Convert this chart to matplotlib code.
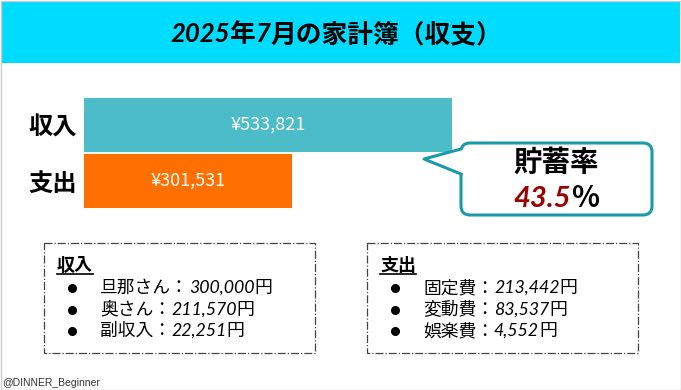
import matplotlib
matplotlib.use("Agg")
import matplotlib.pyplot as plt
import matplotlib.patches as pltch

# data
title_runs = [("2025", "num"), ("年", "jp"), ("7", "num"), ("月の家計簿（収支）", "jp")]
categories = ["収入", "支出"]
totals = [533821, 301531]
bar_colors = ["#4BBCC8", "#FF7000"]

income_names = ["旦那さん", "奥さん", "副収入"]
income_values = [300000, 211570, 22251]
expense_names = ["固定費", "変動費", "娯楽費"]
expense_values = [213442, 83537, 4552]

savings_rate = (totals[0] - totals[1]) / totals[0] * 100

JP = ["Noto Sans CJK JP", "DejaVu Sans"]
NUM = ["Lato", "DejaVu Sans"]

fig = plt.figure(figsize=(6.81, 3.90), dpi=100)
fig.patch.set_facecolor("white")

# overlay in pixel coordinates
ov = fig.add_axes([0, 0, 1, 1])
ov.set_xlim(0, 681)
ov.set_ylim(390, 0)
ov.axis("off")
ov.set_zorder(2)
ov.patch.set_alpha(0)

renderer = fig.canvas.get_renderer()


def runs_text(x, y, runs, ha="left", size=11, color="k", weight="normal"):
    """draw a line made of several text pieces with different styles"""
    texts = []
    for s, kind in runs:
        if kind == "num":
            t = ov.text(0, y, s, fontsize=size, family=NUM, style="italic",
                        weight=weight, color=color, va="baseline")
        elif isinstance(kind, dict):
            t = ov.text(0, y, s, va="baseline", **kind)
        else:
            t = ov.text(0, y, s, fontsize=size, family=JP, weight=weight,
                        color=color, va="baseline")
        texts.append(t)
    widths = [t.get_window_extent(renderer).width for t in texts]
    total = sum(widths)
    if ha == "center":
        x = x - total / 2
    for t, w in zip(texts, widths):
        t.set_x(x)
        x += w
    return texts


# banner
ov.add_patch(pltch.Rectangle((1, 1), 679, 62, facecolor="#00DCFF", edgecolor="none"))
runs_text(336, 42, title_runs, ha="center", size=18.5, weight="bold")

# outer frame
ov.add_patch(pltch.Rectangle((0.5, 0.5), 680, 389, facecolor="none",
                             edgecolor="#cccccc", lw=1))

# bars
ax = fig.add_axes([84 / 681, 1 - 209 / 390, 368 / 681, 112 / 390])
ypos = list(range(len(categories)))
ax.barh(ypos, totals, height=0.96, color=bar_colors)
ax.set_xlim(0, max(totals))
ax.set_ylim(1.5, -0.5)
for s in ax.spines.values():
    s.set_visible(False)
ax.set_xticks([])
ax.set_yticks(ypos)
ax.set_yticklabels(categories, family=JP, fontsize=17.5, fontweight="bold")
ax.tick_params(axis="y", length=0, pad=5)
for y, v in zip(ypos, totals):
    ax.text(v / 2, y, f"¥{v:,}", ha="center", va="center", color="white",
            fontsize=13, family=JP)

# callout
edge = "#1B9AAA"
ov.add_patch(pltch.FancyBboxPatch((461, 143), 191, 72,
                                  boxstyle="round,pad=0,rounding_size=9",
                                  facecolor="white", edgecolor=edge, lw=2.2))
tail = [(461, 149), (424, 159), (461, 174)]
ov.add_patch(pltch.Polygon(tail + [(463, 174), (463, 149)], closed=True,
                           facecolor="white", edgecolor="none", zorder=3))
ov.plot([p[0] for p in tail], [p[1] for p in tail], color=edge, lw=2.2,
        solid_joinstyle="round", zorder=4)
ov.text(556, 171, "貯蓄率", ha="center", va="baseline", family=JP,
        fontsize=20.5, weight="bold")
runs_text(556, 207, [(f"{savings_rate:.1f}", {"fontsize": 21, "family": NUM,
                                              "style": "italic", "weight": "bold",
                                              "color": "#9B0000"}),
                     ("%", {"fontsize": 21, "family": JP, "weight": "bold"})],
          ha="center")


# detail boxes
def detail_box(x0, x1, head, names, values):
    ov.add_patch(pltch.Rectangle((x0, 243), x1 - x0, 110, facecolor="none",
                                 edgecolor="#444444", lw=0.9, linestyle="-."))
    t = ov.text(x0 + 13, 271, head, family=JP, fontsize=13, weight="bold",
                va="baseline")
    w = t.get_window_extent(renderer).width
    ov.plot([x0 + 13, x0 + 13 + w], [274, 274], color="k", lw=1.2)
    for i, (n, v) in enumerate(zip(names, values)):
        yb = 293 + i * 21.5
        ov.plot(x0 + 28, yb - 5, "o", color="k", ms=5.5)
        runs_text(x0 + 56, yb, [(n + "：", "jp"), (f"{v:,}", "num"), ("円", "jp")],
                  size=12.8)


detail_box(44, 315, "収入", income_names, income_values)
detail_box(367, 638, "支出", expense_names, expense_values)

ov.text(2, 386, "@DINNER_Beginner", family=["Liberation Sans"], fontsize=7.5,
        color="#333333", va="baseline")

fig.savefig("out.png", dpi=100)
